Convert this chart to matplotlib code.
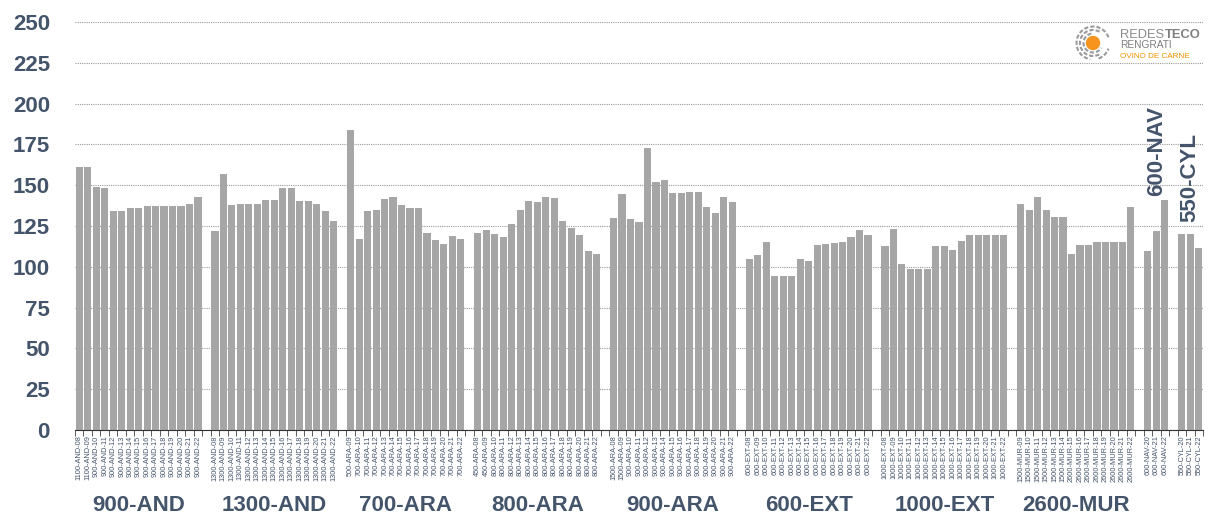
import numpy as np
import matplotlib.pyplot as plt
from matplotlib.patches import Circle, Arc

plt.rcParams['font.family'] = ['Liberation Sans', 'DejaVu Sans']

# data
group_names = ['900-AND', '1300-AND', '700-ARA', '800-ARA', '900-ARA',
               '600-EXT', '1000-EXT', '2600-MUR', '600-NAV', '550-CYL']

and900_labels = ['1100-AND-08', '1100-AND-09'] + ['900-AND-%d' % y for y in range(10, 23)]
and900_values = [161, 161, 149, 148, 134, 134, 136, 136, 137, 137, 137, 137, 137, 138.5, 143]

and1300_labels = ['1300-AND-%02d' % y for y in range(8, 23)]
and1300_values = [122, 157, 138, 138.5, 138.5, 138.5, 141, 141, 148.5, 148, 140.5, 140.5, 138.5, 134, 128]

ara700_labels = ['500-ARA-09'] + ['700-ARA-%d' % y for y in range(10, 23)]
ara700_values = [184, 117, 134, 134.5, 141.5, 143, 138, 136, 136, 120.5, 116.5, 114, 119, 117]

ara800_labels = ['450-ARA-08', '450-ARA-09'] + ['800-ARA-%d' % y for y in range(10, 23)]
ara800_values = [120.5, 122.5, 120, 118.5, 126, 135, 140.5, 140, 142.5, 142, 128, 124, 119.5, 109.5, 108]

ara900_labels = ['1500-ARA-08', '1500-ARA-09'] + ['900-ARA-%d' % y for y in range(10, 23)]
ara900_values = [130, 144.5, 129.5, 127.5, 172.5, 152, 153, 145, 145, 146, 146, 136.5, 133, 142.5, 140]

ext600_labels = ['600-EXT-%02d' % y for y in range(8, 23)]
ext600_values = [104.5, 107.5, 115, 94.5, 94.5, 94.5, 104.5, 103.5, 113.5, 114, 114.5, 115, 118.5, 122.5, 119.5]

ext1000_labels = ['1000-EXT-%02d' % y for y in range(8, 23)]
ext1000_values = [113, 123, 101.5, 98.5, 98.5, 98.5, 112.5, 112.5, 110, 116, 119.5, 119.5, 119.5, 119.5, 119.5]

mur2600_labels = ['1500-MUR-%02d' % y for y in range(9, 15)] + ['2600-MUR-%d' % y for y in range(15, 23)]
mur2600_values = [138.5, 134.5, 143, 135, 130.5, 130.5, 108, 113.5, 113.5, 115.5, 115.5, 115.5, 115.5, 136.5]

nav600_labels = ['600-NAV-20', '600-NAV-21', '600-NAV-22']
nav600_values = [109.5, 122, 141]

cyl550_labels = ['550-CYL-20', '550-CYL-21', '550-CYL-22']
cyl550_values = [120, 120, 111.5]

group_labels = [and900_labels, and1300_labels, ara700_labels, ara800_labels, ara900_labels,
                ext600_labels, ext1000_labels, mur2600_labels, nav600_labels, cyl550_labels]
group_values = [and900_values, and1300_values, ara700_values, ara800_values, ara900_values,
                ext600_values, ext1000_values, mur2600_values, nav600_values, cyl550_values]

text_col = '#44546A'
bar_col = '#A6A6A6'

# lay groups out on one category axis, one empty slot between groups
xs, vals, ticks, centers = [], [], [], []
pos = 0
for labs, v in zip(group_labels, group_values):
    idx = list(range(pos, pos + len(labs)))
    xs += idx
    vals += v
    ticks += labs
    centers.append((idx[0] + idx[-1]) / 2)
    pos += len(labs) + 1
n_slots = pos - 1

fig = plt.figure(figsize=(12.08, 5.2), dpi=100)
ax = fig.add_axes([75 / 1208, 90 / 520, 1128 / 1208, 408 / 520])

ax.bar(xs, vals, width=0.84, color=bar_col, zorder=3)

ax.set_xlim(-0.5, n_slots - 0.5)
ax.set_ylim(0, 250)
ax.set_yticks(np.arange(0, 251, 25))
ax.yaxis.grid(True, linestyle=(0, (1, 1)), color='#9A9A9A', linewidth=0.8, zorder=0)

ax.set_xticks(xs)
ax.set_xticklabels(ticks, rotation=90, fontsize=5.3, color=text_col)
ax.set_xticks(np.arange(-0.5, n_slots, 1), minor=True)
ax.tick_params(axis='x', which='major', length=0, pad=4)
ax.tick_params(axis='x', which='minor', length=4, width=0.6, color='#404040')
ax.tick_params(axis='y', length=0, pad=18, labelsize=16, labelcolor=text_col)
for t in ax.get_yticklabels():
    t.set_fontweight('bold')

for s in ['top', 'right', 'left']:
    ax.spines[s].set_visible(False)
ax.spines['bottom'].set_color('#303030')
ax.spines['bottom'].set_linewidth(0.8)
ax.spines['bottom'].set_zorder(4)

# group names under the axis
for c, name in zip(centers[:8], group_names[:8]):
    ax.text(c, -0.186, name, transform=ax.get_xaxis_transform(), ha='center', va='center',
            fontsize=16, fontweight='bold', color=text_col)

# the two small groups are named inside the plot
ax.text(centers[8], 143.5, group_names[8], rotation=90, ha='center', va='bottom',
        fontsize=16, fontweight='bold', color=text_col, zorder=5)
ax.text(centers[9], 127.5, group_names[9], rotation=90, ha='center', va='bottom',
        fontsize=16, fontweight='bold', color=text_col, zorder=5)

# logo
def fx(px):
    return px / 1208

def fy(py):
    return 1 - py / 520

t_redes = fig.text(fx(1120), fy(38), 'REDES', fontsize=9.3, color='#8C8C8C',
                   va='baseline', ha='left')
ax.annotate('TECO', xy=(1, 0), xycoords=t_redes, xytext=(0.3, 0), textcoords='offset points',
            va='bottom', ha='left', fontsize=9.3, fontweight='bold', color='#7F7F7F',
            annotation_clip=False)
fig.text(fx(1120), fy(45.5), 'RENGRATI', fontsize=7.3, color='#7F7F7F', va='center', ha='left')
fig.text(fx(1120), fy(56.5), 'OVINO DE CARNE', fontsize=5.9, color='#F39200', va='center', ha='left')

lax = fig.add_axes([fx(1073), fy(63), 40 / 1208, 40 / 520])
lax.set_xlim(-20, 20)
lax.set_ylim(-20, 20)
lax.set_aspect('equal')
lax.axis('off')
lax.add_patch(Circle((0, 0), 6.5, color='#F7941D'))
for r, a0, a1 in [(9.5, 100, 330), (13, 60, 300), (16.5, 20, 260), (16.5, 290, 340)]:
    lax.add_patch(Arc((0, 0), 2 * r, 2 * r, theta1=a0, theta2=a1, color='#9A9A9A',
                      linewidth=1.5, linestyle=(0, (2, 1))))

fig.savefig('out.png', dpi=100)
